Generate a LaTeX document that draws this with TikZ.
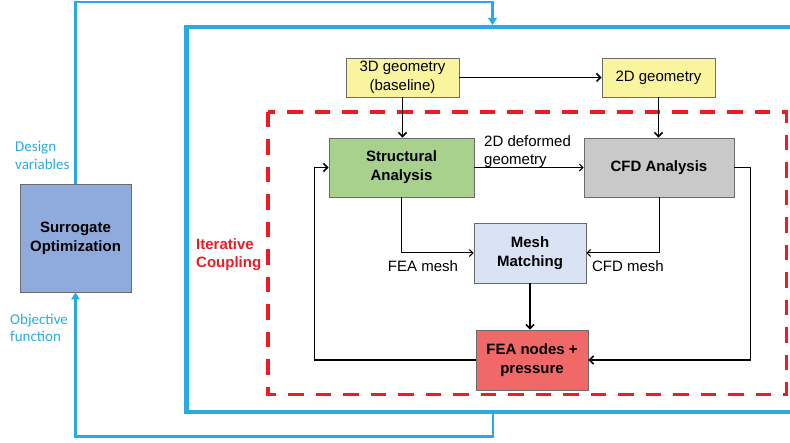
\documentclass[tikz,border=0pt]{standalone}
\usepackage{fontspec}
\setmainfont{Liberation Sans}
\newfontfamily\calibrifont{Carlito}
\usepackage{xcolor}
\usepackage{tikz}
\usetikzlibrary{positioning, arrows.meta}

\definecolor{loopblue}{RGB}{41,171,226}
\definecolor{couplered}{RGB}{237,28,36}
\definecolor{geofill}{RGB}{249,244,157}
\definecolor{structfill}{RGB}{169,209,142}
\definecolor{cfdfill}{RGB}{201,201,201}
\definecolor{meshfill}{RGB}{218,227,243}
\definecolor{feafill}{RGB}{240,104,104}
\definecolor{surrfill}{RGB}{143,170,220}

\newcommand{\boxfont}{\fontsize{15}{19}\selectfont}

\begin{document}
\begin{tikzpicture}[x=1pt, y=-1pt,
    box/.style={draw=black!58, line width=0.9pt, align=center, inner sep=0pt, font=\boxfont},
    boldbox/.style={box, font=\boxfont\bfseries},
    flow/.style={-{Straight Barb[length=4pt,width=8pt]}, line width=1.5pt},
    thinflow/.style={-{Straight Barb[length=3.5pt,width=7pt]}, line width=1pt},
    loopline/.style={draw=loopblue, line width=2.7pt, -{Triangle[length=7pt,width=8.5pt]}},
    lbl/.style={font=\fontsize{15}{18}\selectfont, align=left, inner sep=0pt},
    bluelbl/.style={font=\calibrifont\fontsize{15}{17.5}\selectfont, text=loopblue, align=left, inner sep=0pt}]
  \useasboundingbox (0,0) rectangle (790,443);

  \draw[loopblue, line width=4.3pt] (800,27) -- (186.5,27) -- (186.5,412) -- (800,412);
  \draw[couplered, line width=3.7pt, dash pattern=on 15.5pt off 12pt] (268,112) rectangle (786.5,394.5);

  \node[boldbox, fill=surrfill, minimum width=111, minimum height=108] (surr) at (75.5,238) {Surrogate\\Optimization};
  \node[box, fill=geofill, minimum width=113, minimum height=39] (geo3) at (402.5,77.5) {3D geometry\\(baseline)};
  \node[box, fill=geofill, minimum width=113, minimum height=39] (geo2) at (658.5,77.5) {2D geometry};
  \node[boldbox, fill=structfill, minimum width=145, minimum height=59] (struct) at (401.5,167.5) {Structural\\Analysis};
  \node[boldbox, fill=cfdfill, minimum width=150, minimum height=59] (cfd) at (659,167.5) {CFD Analysis};
  \node[boldbox, fill=meshfill, minimum width=112, minimum height=60] (mesh) at (530,253) {Mesh\\Matching};
  \node[boldbox, fill=feafill, minimum width=112, minimum height=60] (fea) at (532,360) {FEA nodes +\\pressure};

  \node[bluelbl, anchor=west] (dvlbl) at (15,155.5) {Design\\variables};
  \node[bluelbl, anchor=west] (oflbl) at (10,328) {Objective\\function};
  \node[lbl, anchor=west, font=\fontsize{15}{18.3}\selectfont\bfseries, text=couplered] (itlbl) at (196,255) {Iterative\\Coupling};
  \node[lbl, anchor=west] (deflbl) at (484,152) {2D deformed\\geometry};
  \node[lbl] (fealbl) at (423,266) {FEA mesh};
  \node[lbl] (cfdlbl) at (628,266) {CFD mesh};

  \coordinate (optop) at (492.5,2);
  \coordinate (boxtop) at (492.5,25);
  \coordinate (boxbot) at (493,412);

  \draw[loopline] (surr.north) |- (optop) -- (boxtop);
  \draw[loopline] (boxbot) -- ++(0,24.5) -| (surr.south);

  \draw[flow] (geo3.east) -- (geo2.west);
  \draw[flow] (geo3.south) -- (geo3.south |- struct.north);
  \draw[flow] (geo2.south) -- (geo2.south |- cfd.north);
  \draw[thinflow] (struct.east) -- (cfd.west);
  \draw[thinflow] (struct.south) |- (mesh.west);
  \draw[thinflow] (cfd.south) |- (mesh.east);
  \draw[flow] (mesh.south) -- (mesh.south |- fea.north);
  \draw[flow] (cfd.east) -- ++(16,0) |- (fea.east);
  \draw[flow] (fea.west) -- ++(-161,0) |- (struct.west);
\end{tikzpicture}
\end{document}
